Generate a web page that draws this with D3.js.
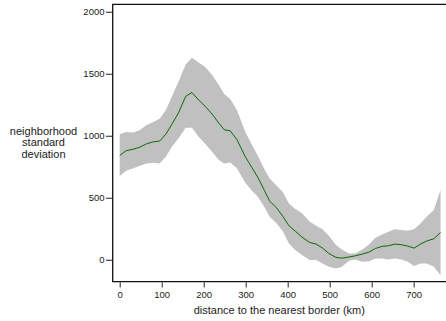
<!DOCTYPE html>
<html>
<head>
<meta charset="utf-8">
<script src="https://cdn.jsdelivr.net/npm/d3@7"></script>
<style>
  body { margin: 0; background: #fff; }
  svg { display: block; font-family: "Liberation Sans", Arial, sans-serif; }
  .tick text { fill: #222; font-size: 9.5px; }
  .tick line { stroke: #222; }
</style>
</head>
<body>
<svg id="chart" width="446" height="321"></svg>
<script>
// distance to the nearest border (km)
const dist = [0, 15, 33, 48, 64, 80, 95, 110, 124, 140, 157, 172, 188, 203, 220, 236, 249, 263, 279, 299,
  315, 329, 345, 357, 374, 389, 403, 418, 434, 452, 468, 483, 498, 515, 529, 546, 561, 578, 594, 609,
  625, 640, 655, 671, 686, 701, 716, 731, 748, 764];
// smoothed neighborhood standard deviation
const meanSd = [841, 879, 892, 908, 935, 951, 957, 1013, 1091, 1185, 1317, 1349, 1288, 1239, 1175, 1102, 1048, 1040, 970, 831,
  742, 664, 556, 473, 417, 347, 274, 231, 183, 140, 126, 94, 51, 19, 13, 22, 32, 46, 62, 91,
  108, 113, 126, 121, 110, 94, 126, 151, 169, 220];
// confidence band
const upperSd = [1013, 1030, 1027, 1046, 1086, 1110, 1137, 1207, 1314, 1435, 1575, 1629, 1591, 1556, 1489, 1409, 1336, 1296, 1207, 1032,
  925, 839, 728, 656, 597, 543, 454, 409, 374, 309, 274, 245, 194, 118, 83, 51, 51, 83, 124, 177,
  204, 226, 245, 239, 234, 245, 293, 347, 401, 562];
const lowerSd = [675, 718, 737, 758, 777, 782, 777, 831, 911, 978, 1064, 1064, 992, 938, 871, 804, 777, 785, 737, 621,
  556, 508, 422, 347, 293, 226, 132, 78, 38, -3, -3, -30, -56, -70, -56, -8, 3, -16, -13, 11,
  11, 3, 11, 3, -16, -51, -30, -30, -56, -124];
const xTicks = [0, 100, 200, 300, 400, 500, 600, 700];
const yTicks = [0, 500, 1000, 1500, 2000];

const svg = d3.select("#chart");
const plotLeft = 112.7, plotRight = 447, plotTop = 4.3, plotBottom = 281.7;

const x = d3.scaleLinear().domain([-16.7, 777]).range([plotLeft, 446]);
const y = d3.scaleLinear().domain([-177, 2060]).range([plotBottom, plotTop]);

const rows = dist.map((d, i) => ({ d: d, m: meanSd[i], lo: lowerSd[i], hi: upperSd[i] }));

// band
const area = d3.area()
  .x(r => x(r.d))
  .y0(r => y(r.lo))
  .y1(r => y(r.hi));

svg.append("path")
  .datum(rows)
  .attr("d", area)
  .attr("fill", "#c0c0c0");

// mean line
const line = d3.line()
  .x(r => x(r.d))
  .y(r => y(r.m));

svg.append("path")
  .datum(rows)
  .attr("d", line)
  .attr("fill", "none")
  .attr("stroke", "#0a6a0a")
  .attr("stroke-width", 1);

// frame
svg.append("path")
  .attr("d", `M${plotRight},${plotTop}H${plotLeft}V${plotBottom}H${plotRight}`)
  .attr("fill", "none")
  .attr("stroke", "#111")
  .attr("stroke-width", 1.3);

// axes
svg.append("g")
  .attr("transform", `translate(${plotLeft - 0.7},0)`)
  .call(d3.axisLeft(y).tickValues(yTicks).tickFormat(d3.format("d")).tickSize(6).tickPadding(1.5))
  .call(g => g.select(".domain").remove());

svg.append("g")
  .attr("transform", `translate(0,${plotBottom + 0.7})`)
  .call(d3.axisBottom(x).tickValues(xTicks).tickFormat(d3.format("d")).tickSize(5).tickPadding(4))
  .call(g => g.select(".domain").remove());

// labels
svg.append("text")
  .attr("x", (plotLeft + 446) / 2)
  .attr("y", 314)
  .attr("text-anchor", "middle")
  .attr("fill", "#222")
  .style("font-size", "11px")
  .text("distance to the nearest border (km)");

const yLab = svg.append("text")
  .attr("text-anchor", "middle")
  .attr("fill", "#222")
  .style("font-size", "11px");
["neighborhood", "standard", "deviation"].forEach((t, i) => {
  yLab.append("tspan")
    .attr("x", 43.5)
    .attr("y", 135 + i * 11.3)
    .text(t);
});
</script>
</body>
</html>
